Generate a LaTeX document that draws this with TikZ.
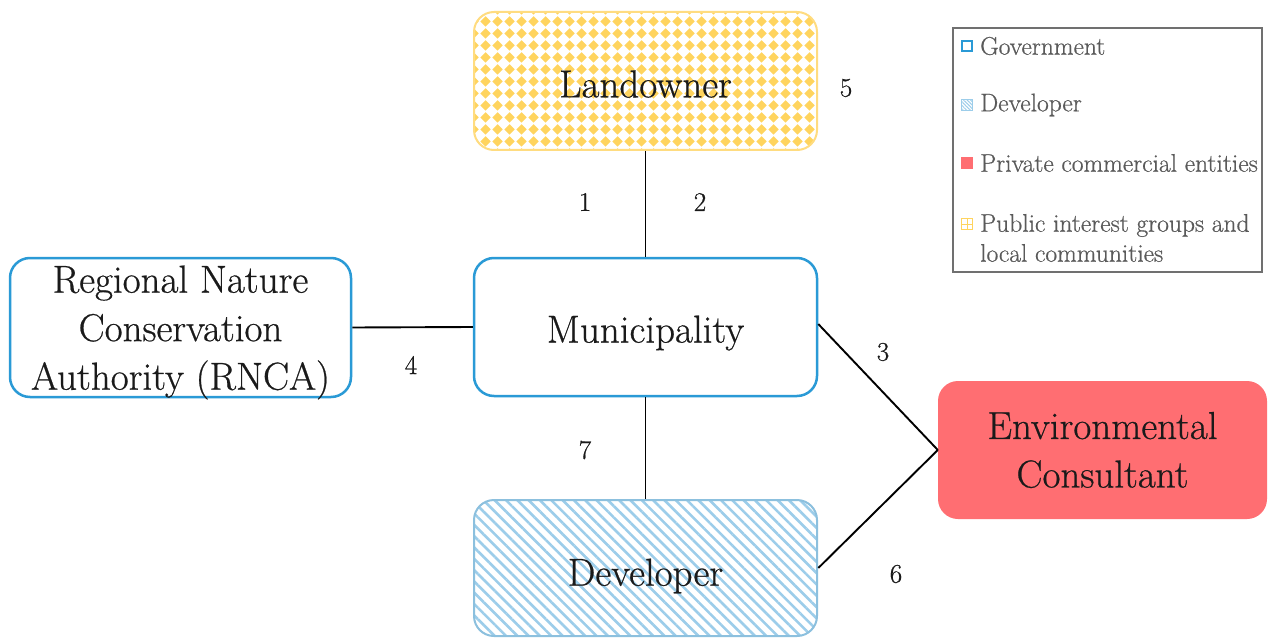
\documentclass[tikz,border=0pt]{standalone}
\usepackage{fontspec}
\setmainfont{Latin Modern Roman}[FakeBold=0.6]
\usetikzlibrary{patterns,patterns.meta}
\definecolor{govblue}{HTML}{2A9AD6}
\definecolor{devblue}{HTML}{9CCDEA}
\definecolor{devborder}{HTML}{8CC0DE}
\definecolor{ylw}{HTML}{FFD45E}
\definecolor{ylwborder}{HTML}{FFDC80}
\definecolor{ecred}{HTML}{FF6E72}
\definecolor{txt}{HTML}{1A1A1A}
\definecolor{legtxt}{HTML}{5A5A5A}
\definecolor{legframe}{HTML}{707070}
\pgfdeclarepattern{
  name=ydiam, type=colored,
  bottom left={\pgfpoint{0pt}{0pt}},
  top right={\pgfpoint{12pt}{12pt}},
  tile size={\pgfpoint{12pt}{12pt}},
  code={
    \pgfsetfillcolor{ylw}
    \pgfpathmoveto{\pgfpoint{6pt}{0.4pt}}
    \pgfpathlineto{\pgfpoint{11.6pt}{6pt}}
    \pgfpathlineto{\pgfpoint{6pt}{11.6pt}}
    \pgfpathlineto{\pgfpoint{0.4pt}{6pt}}
    \pgfpathclose
    \pgfusepath{fill}
  }
}
\begin{document}
\begin{tikzpicture}[x=1pt,y=-1pt,
  box/.style={rounded corners=20pt, minimum width=343pt, minimum height=138pt, inner sep=0pt},
  boxtext/.style={align=center, text=txt, font=\fontsize{39}{48.5}\selectfont, inner sep=0pt},
  govbox/.style={box, draw=govblue, line width=2.5pt, fill=white},
  conn/.style={draw=black, line width=1.9pt},
  num/.style={text=txt, font=\fontsize{27}{30}\selectfont},
  legtext/.style={anchor=west, text=legtxt, font=\fontsize{25.5}{30}\selectfont, align=left, inner sep=0pt}
]
\useasboundingbox (0,0) rectangle (1268,639);
\fill[white] (0,0) rectangle (1268,639);

% boxes
\node[box, draw=ylwborder, line width=2pt, pattern=ydiam,
  label={[boxtext, yshift=-3pt]center:Landowner}] (land) at (645.5,81) {};
\node[govbox, label={[boxtext, yshift=-6pt]center:Municipality}] (muni) at (645.5,327) {};
\node[govbox, minimum width=341pt, minimum height=139pt,
  label={[boxtext, yshift=-5pt]center:{Regional Nature\\Conservation\\Authority (RNCA)}}] (rnca) at (180.5,327.5) {};
\node[box, draw=devborder, line width=2pt, minimum height=136pt,
  pattern={Lines[angle=-45,distance=8pt,line width=2.6pt]}, pattern color=devblue,
  label={[boxtext, yshift=-8pt]center:Developer}] (dev) at (645.5,568) {};
\node[box, fill=ecred, minimum width=329pt, minimum height=138pt,
  label={[boxtext, yshift=0pt]center:{Environmental\\Consultant}}] (ec) at (1102.5,450) {};

% connectors
\draw[conn] (land.south) -- (muni.north);
\draw[conn] (rnca.east) -- (muni.west);
\draw[conn] (muni.south) -- (dev.north);
\draw[conn] ([yshift=3pt]muni.east) -- (ec.west);
\draw[conn] (dev.east) -- (ec.west);

% numbers
\node[num] (n1) at (585,202) {1};
\node[num] (n2) at (700,202) {2};
\node[num] (n3) at (883,352) {3};
\node[num] (n4) at (411,365) {4};
\node[num] (n5) at (846,88) {5};
\node[num] (n6) at (896,574) {6};
\node[num] (n7) at (585,450) {7};

% legend
\node[draw=legframe, line width=1.5pt, minimum width=309pt, minimum height=244pt, inner sep=0pt] (leg) at (1107.5,150) {};
\node[draw=govblue, line width=2pt, minimum size=10pt, inner sep=0pt] (m1) at (967,46) {};
\node[pattern={Lines[angle=-45,distance=2.5pt,line width=1pt]}, pattern color=devblue, draw=devblue, line width=0.6pt, minimum size=11pt, inner sep=0pt] (m2) at (967,105) {};
\node[fill=ecred, minimum size=12pt, inner sep=0pt] (m3) at (967,163) {};
\node[draw=ylw, fill=white, line width=1.5pt, minimum size=11pt, inner sep=0pt] (m4) at (967,224) {};
\draw[ylw, line width=1pt] (m4.north) -- (m4.south) (m4.west) -- (m4.east);
\node[legtext] (l1) at (980,46) {Government};
\node[legtext] (l2) at (980,105) {Developer};
\node[legtext] (l3) at (980,163) {Private commercial entities};
\node[legtext] (l4) at (980,238) {Public interest groups and\\local communities};
\end{tikzpicture}
\end{document}
